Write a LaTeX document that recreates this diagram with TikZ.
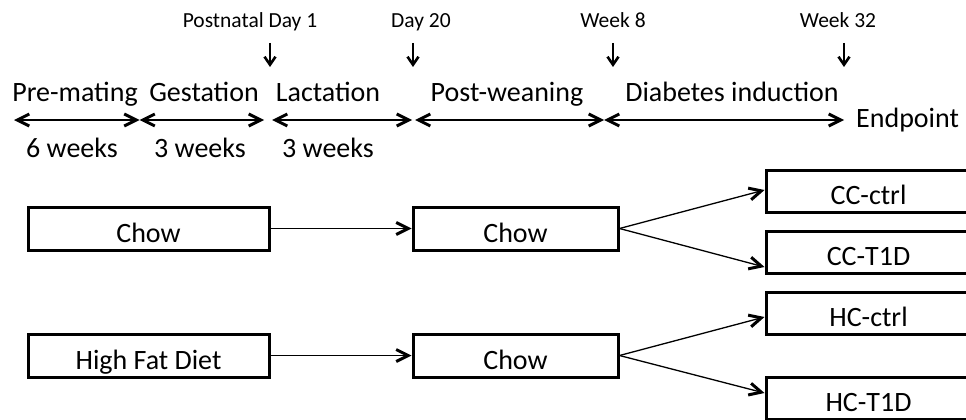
\documentclass[tikz,border=0pt]{standalone}
\usepackage{fontspec}
\setmainfont{Carlito}
\usetikzlibrary{arrows.meta}
\begin{document}
\begin{tikzpicture}[x=1pt,y=-1pt,
  big/.style={font=\fontsize{28}{32}\selectfont, inner sep=0pt},
  small/.style={font=\fontsize{21.5}{25}\selectfont, inner sep=0pt},
  tipb/.tip={Straight Barb[length=12pt,width=12pt,line width=3pt]},
  tips/.tip={Straight Barb[length=8pt,width=11pt,line width=2.6pt]},
  tline/.style={line width=1.4pt,{tipb}-{tipb}},
  conn/.style={line width=1.3pt,-{tipb}},
  darrow/.style={line width=1.4pt,-{tips}},
  dietbox/.style={draw, line width=3pt, fill=white, minimum height=43pt, inner sep=0pt, text height=27pt, text depth=0pt, font=\fontsize{28}{32}\selectfont}
]
\useasboundingbox (0,0) rectangle (966,420);
\clip (0,0) rectangle (966,420);
\fill[white] (0,0) rectangle (966,420);

% top labels
\node[small, anchor=base] (lpd) at (250,28) {Postnatal Day 1};
\node[small, anchor=base] (ld20) at (421,28) {Day 20};
\node[small, anchor=base] (lw8) at (613,28) {Week 8};
\node[small, anchor=base] (lw32) at (838,28) {Week 32};

\coordinate (a1t) at (270,43); \coordinate (a1b) at (270,67);
\coordinate (a2t) at (413,43); \coordinate (a2b) at (413,67);
\coordinate (a3t) at (613,43); \coordinate (a3b) at (613,67);
\coordinate (a4t) at (844,43); \coordinate (a4b) at (844,67);
\draw[darrow] (a1t) -- (a1b);
\draw[darrow] (a2t) -- (a2b);
\draw[darrow] (a3t) -- (a3b);
\draw[darrow] (a4t) -- (a4b);

% phase labels
\node[big, anchor=base] (ppre) at (75,101) {Pre-mating};
\node[big, anchor=base] (pges) at (204,101) {Gestation};
\node[big, anchor=base] (plac) at (328,101) {Lactation};
\node[big, anchor=base] (ppost) at (507,101) {Post-weaning};
\node[big, anchor=base] (pdia) at (732,101) {Diabetes induction};

% timeline
\coordinate (t0) at (14,120);
\coordinate (t1) at (139.5,120);
\coordinate (t2a) at (264,120); \coordinate (t2b) at (272,120);
\coordinate (t3a) at (412,120); \coordinate (t3b) at (415,120);
\coordinate (t4) at (604,120);
\coordinate (t5) at (844,120);
\draw[tline] (t0) -- (t1);
\draw[tline] (t1) -- (t2a);
\draw[tline] (t2b) -- (t3a);
\draw[tline] (t3b) -- (t4);
\draw[tline] (t4) -- (t5);
\node[big, anchor=base west] (endp) at (856,127) {Endpoint};

% durations
\node[big, anchor=base] (d1) at (72,157) {6 weeks};
\node[big, anchor=base] (d2) at (200,157) {3 weeks};
\node[big, anchor=base] (d3) at (328,157) {3 weeks};

% boxes
\node[dietbox, minimum width=241pt] (chow1) at (148.5,228.5) {Chow};
\node[dietbox, minimum width=241pt] (hfd) at (148.5,355.5) {High Fat Diet};
\node[dietbox, minimum width=205pt] (chow2) at (515.5,228.5) {Chow};
\node[dietbox, minimum width=205pt] (chow3) at (515.5,355.5) {Chow};
\node[dietbox, minimum width=205pt, minimum height=42pt] (ccc) at (868.5,191) {CC-ctrl};
\node[dietbox, minimum width=205pt, minimum height=42pt] (cct) at (868.5,252) {CC-T1D};
\node[dietbox, minimum width=205pt, minimum height=42pt] (hcc) at (868.5,313) {HC-ctrl};
\node[dietbox, minimum width=205pt, minimum height=42pt] (hct) at (868.5,398) {HC-T1D};

% connectors
\draw[conn] (chow1.east) -- (chow2.west);
\draw[conn] (hfd.east) -- (chow3.west);
\draw[conn] (chow2.east) -- ([yshift=1pt]ccc.west);
\draw[conn] (chow2.east) -- ([yshift=-15pt]cct.west);
\draw[conn] (chow3.east) -- ([yshift=-4pt]hcc.west);
\draw[conn] (chow3.east) -- ([yshift=5pt]hct.west);
\end{tikzpicture}
\end{document}
